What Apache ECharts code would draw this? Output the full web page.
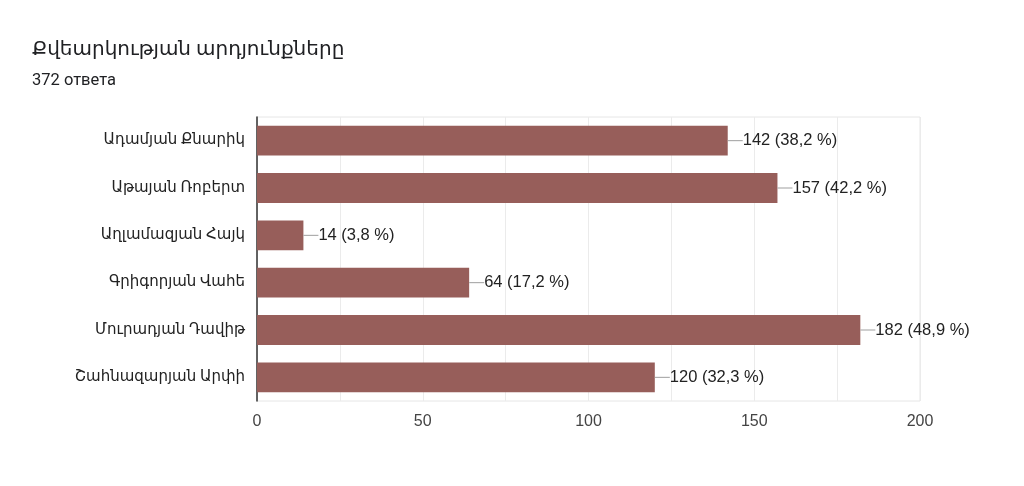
<!DOCTYPE html>
<html>
<head>
<meta charset="utf-8">
<script src="https://cdn.jsdelivr.net/npm/echarts@6/dist/echarts.min.js"></script>
<style>
  html, body { margin: 0; padding: 0; background: #fff; }
  #chart { width: 1024px; height: 486px; }
</style>
</head>
<body>
<div id="chart"></div>
<script>
// data
var categories = ['Ադամյան Քնարիկ', 'Աթայան Ռոբերտ', 'Աղլամազյան Հայկ', 'Գրիգորյան Վահե', 'Մուրադյան Դավիթ', 'Շահնազարյան Արփի'];
var votes = [142, 157, 14, 64, 182, 120];
var totalAnswers = 372;
var xTicks = [0, 50, 100, 150, 200];

var font = 'Roboto, "DejaVu Sans", "Noto Sans", sans-serif';
var numFont = '"Liberation Sans", Arial, sans-serif';

var chart = echarts.init(document.getElementById('chart'));
chart.setOption({
  backgroundColor: '#fff',
  textStyle: { fontFamily: font },
  title: {
    text: 'Քվեարկության արդյունքները',
    subtext: totalAnswers + ' ответа',
    left: 27,
    top: 35,
    itemGap: 12,
    textStyle: { fontFamily: font, fontSize: 20, fontWeight: 'normal', color: '#202124' },
    subtextStyle: { fontFamily: font, fontSize: 16.5, color: '#202124' }
  },
  grid: {
    left: 257, right: 104, top: 117, bottom: 85,
    show: true, borderColor: '#e6e6e6', borderWidth: 1
  },
  xAxis: {
    type: 'value',
    min: xTicks[0],
    max: xTicks[xTicks.length - 1],
    interval: 50,
    axisLine: { show: false },
    axisTick: { show: false },
    axisLabel: { fontSize: 16, color: '#444', margin: 13, fontFamily: numFont },
    splitLine: { lineStyle: { color: '#ebebeb' } },
    minorTick: { show: false, splitNumber: 2 },
    minorSplitLine: { show: true, lineStyle: { color: '#ebebeb' } }
  },
  yAxis: {
    type: 'category',
    data: categories,
    inverse: true,
    axisLine: { lineStyle: { color: '#333', width: 1.5 } },
    axisTick: { show: false },
    axisLabel: { fontSize: 15, color: '#222', margin: 12, fontFamily: font }
  },
  series: [{
    type: 'bar',
    data: votes,
    barWidth: '63%',
    itemStyle: { color: '#975e5a' },
    label: {
      show: true,
      position: 'right',
      distance: 0,
      formatter: function (p) {
        var pct = (p.value / totalAnswers * 100).toFixed(1).replace('.', ',');
        return '{ln|}{v|' + p.value + ' (' + pct + ' %)}';
      },
      rich: {
        ln: { width: 15, height: 1, backgroundColor: '#9e9e9e' },
        v: { fontSize: 16.5, color: '#222', fontFamily: numFont }
      }
    }
  }]
});
</script>
</body>
</html>
